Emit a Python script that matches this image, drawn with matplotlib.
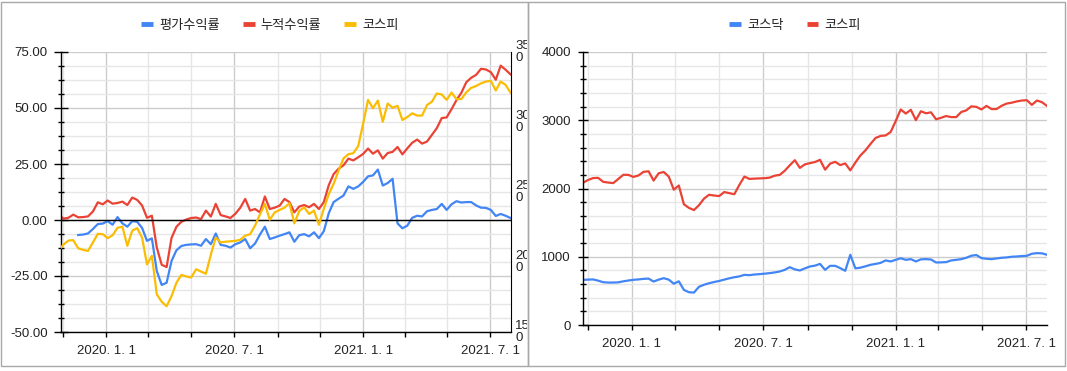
import numpy as np
import pandas as pd
import matplotlib
matplotlib.use('Agg')
import matplotlib.pyplot as plt
import matplotlib.dates as mdates
from matplotlib.lines import Line2D
from matplotlib.patches import Rectangle
from matplotlib.ticker import MultipleLocator, FixedLocator, FuncFormatter
from matplotlib.transforms import Bbox, TransformedBbox, ScaledTranslation

plt.rcParams['font.family'] = ['Liberation Sans', 'Noto Sans CJK KR']

# weekly (Friday) closes
weeks = pd.date_range('2019-10-25', '2021-07-30', freq='7D')

nan = np.nan
eval_rate = [nan, nan, nan, nan, -6.7, -6.5, -6.0, -4.0, -1.8, -1.6,
             -0.5, -2.1, 1.3, -1.5, -3.0, -0.5, -0.8, -3.5, -9.3, -8.2,
             -22.8, -29.0, -28.0, -18.3, -13.5, -11.6, -11.1, -10.9, -10.8, -11.5,
             -8.5, -10.8, -6.0, -11.1, -11.5, -12.3, -10.8, -10.0, -8.5, -12.6,
             -10.5, -6.5, -3.0, -8.5, -7.8, -7.0, -6.3, -5.5, -9.7, -6.8,
             -6.3, -7.3, -5.5, -8.1, -5.0, 3.0, 8.0, 9.5, 10.9, 15.0,
             13.9, 15.0, 17.0, 19.5, 19.9, 22.5, 15.4, 16.5, 18.4, -1.5,
             -3.7, -2.5, 1.0, 1.9, 1.6, 3.9, 4.5, 4.9, 7.2, 4.5,
             7.0, 8.4, 7.8, 8.0, 8.0, 6.5, 5.5, 5.4, 4.5, 1.8,
             2.7, 1.9, 0.9]

cum_rate = [2.4, 0.6, 1.0, 2.4, 1.2, 1.3, 1.6, 3.8, 7.9, 7.0,
            8.7, 7.3, 7.6, 8.2, 6.7, 10.0, 9.0, 6.5, 1.0, 1.9,
            -12.3, -20.0, -21.0, -8.0, -3.0, -0.8, 0.2, 0.9, 1.1, 0.4,
            4.2, 1.5, 7.2, 2.2, 1.6, 0.9, 2.8, 5.5, 9.4, 4.2,
            4.9, 3.4, 10.5, 4.9, 5.5, 6.4, 9.4, 8.0, 3.4, 6.0,
            6.7, 5.7, 7.2, 4.9, 8.0, 15.5, 20.5, 22.9, 24.4, 27.4,
            26.6, 28.0, 29.5, 31.9, 29.6, 31.1, 27.4, 29.9, 30.4, 32.6,
            29.3, 32.0, 34.5, 35.9, 34.1, 35.0, 38.0, 41.0, 45.5, 45.8,
            49.5, 53.5, 56.8, 61.5, 63.5, 64.8, 67.5, 67.2, 66.0, 62.6,
            68.9, 67.1, 65.0]

kospi = [2084, 2124, 2153, 2156, 2098, 2087, 2079, 2140, 2201, 2199,
         2170, 2191, 2244, 2252, 2116, 2223, 2242, 2175, 1983, 2044,
         1769, 1716, 1684, 1756, 1852, 1908, 1897, 1889, 1948, 1932,
         1916, 2052, 2175, 2140, 2145, 2148, 2151, 2159, 2188, 2199,
         2260, 2340, 2415, 2302, 2354, 2372, 2388, 2420, 2276, 2364,
         2391, 2343, 2367, 2266, 2380, 2484, 2559, 2652, 2740, 2770,
         2777, 2828, 2988, 3158, 3098, 3153, 3002, 3132, 3102, 3116,
         3014, 3036, 3062, 3046, 3046, 3121, 3145, 3204, 3196, 3158,
         3210, 3164, 3164, 3212, 3244, 3257, 3276, 3289, 3294, 3225,
         3289, 3265, 3210]

kosdaq = [661, 665, 668, 650, 627, 622, 622, 625, 640, 652,
          662, 668, 676, 680, 637, 665, 686, 665, 605, 640,
          515, 480, 475, 560, 590, 612, 630, 645, 665, 684,
          700, 712, 735, 730, 740, 745, 752, 760, 770, 784,
          808, 847, 815, 799, 830, 857, 870, 895, 808, 867,
          867, 833, 794, 1029, 830, 840, 860, 882, 895, 910,
          946, 931, 955, 978, 955, 965, 931, 962, 965, 960,
          916, 918, 921, 946, 955, 965, 985, 1015, 1025, 980,
          970, 965, 975, 985, 990, 1000, 1004, 1010, 1014, 1044,
          1053, 1050, 1029]

left_names = ['평가수익률', '누적수익률', '코스피']
right_names = ['코스닥', '코스피']
rate_ticks = [-50, -25, 0, 25, 50, 75]
kospi_ticks = [1500, 2000, 2500, 3000, 3500]
index_ticks = [0, 1000, 2000, 3000, 4000]

BLUE, RED, YELLOW = '#4285f4', '#ea4335', '#fbbc04'
GRID_MAJOR, GRID_MINOR = '#cccccc', '#e6e6e6'
TXT = '#222222'
FS = 9.5

W, H = 1067, 371
fig = plt.figure(figsize=(W / 100, H / 100), dpi=100)


def box(l, t, r, b):
    return [l / W, 1 - b / H, (r - l) / W, (b - t) / H]


def date_fmt(v, pos):
    d = mdates.num2date(v)
    return f'{d.year}. {d.month}. {d.day}'


def style_axes(ax, major_len, minor_len):
    ax.set_axisbelow(True)
    ax.xaxis.set_major_locator(mdates.MonthLocator(bymonth=[1, 7]))
    ax.xaxis.set_minor_locator(mdates.MonthLocator(bymonth=[3, 5, 9, 11]))
    ax.xaxis.set_major_formatter(FuncFormatter(date_fmt))
    ax.grid(which='major', color=GRID_MAJOR, lw=1)
    ax.grid(which='minor', color=GRID_MINOR, lw=1)
    ax.tick_params(axis='x', which='both', direction='out', length=3.6,
                   width=1, color='black', pad=6, labelsize=FS, labelcolor=TXT)
    ax.tick_params(axis='y', which='major', direction='inout', length=major_len,
                   width=1, color='black', pad=4.9, labelsize=FS, labelcolor=TXT)
    ax.tick_params(axis='y', which='minor', direction='inout', length=minor_len,
                   width=1, color='black')
    ax.spines['top'].set_visible(False)
    for s in ('left', 'bottom'):
        ax.spines[s].set_color('black')
        ax.spines[s].set_linewidth(1)


# ---------------- left chart ----------------
ax1 = fig.add_axes(box(61, 52, 510.5, 332))
ax2 = ax1.twinx()

ax1.plot(weeks, eval_rate, color=BLUE, lw=1.6, solid_joinstyle='round')
ax1.plot(weeks, cum_rate, color=RED, lw=1.6, solid_joinstyle='round')
ax2.plot(weeks, kospi, color=YELLOW, lw=1.6, solid_joinstyle='round')
ax1.axhline(0, color='black', lw=1)

ax1.set_xlim(pd.Timestamp('2019-10-28 12:00'), pd.Timestamp('2021-07-30'))
ax1.set_ylim(-50, 75)
ax1.yaxis.set_major_locator(FixedLocator(rate_ticks))
ax1.yaxis.set_minor_locator(MultipleLocator(6.25))
ax1.yaxis.set_major_formatter(FuncFormatter(lambda v, p: f'{v:.2f}'))
style_axes(ax1, 9.4, 5)
ax1.spines['right'].set_color('black')

ax2.set_ylim(1500, 3500)
ax2.tick_params(right=False, labelright=False)
for s in ax2.spines.values():
    s.set_visible(False)

# wrapped secondary-axis labels, clipped at the panel edge
clip = TransformedBbox(Bbox.from_extents(0, 0, 527 / W, 1), fig.transFigure)
off = ax2.get_yaxis_transform() + ScaledTranslation(4.5 / 100, 0, fig.dpi_scale_trans)
for v in kospi_ticks:
    s = str(v)
    t = ax2.text(1, v, s[:3] + '\n' + s[3:], transform=off, ha='left', va='center',
                 fontsize=FS, color=TXT, linespacing=0.95)
    t.set_clip_box(clip)
    t.set_clip_on(True)

hl = [Line2D([], [], color=c, lw=3.5, solid_capstyle='butt') for c in (BLUE, RED, YELLOW)]
fig.legend(hl, left_names, loc='center', bbox_to_anchor=(270 / W, 1 - 26 / H),
           ncol=3, frameon=False, fontsize=FS, handlelength=0.9, handletextpad=0.45,
           columnspacing=1.75, labelcolor=TXT)

# ---------------- right chart ----------------
ax3 = fig.add_axes(box(583, 52, 1047, 325))
ax3.plot(weeks, kosdaq, color=BLUE, lw=1.6, solid_joinstyle='round')
ax3.plot(weeks, kospi, color=RED, lw=1.6, solid_joinstyle='round')
ax3.set_xlim(pd.Timestamp('2019-10-25'), pd.Timestamp('2021-07-30'))
ax3.set_ylim(0, 4000)
ax3.yaxis.set_major_locator(FixedLocator(index_ticks))
ax3.yaxis.set_minor_locator(MultipleLocator(200))
ax3.yaxis.set_major_formatter(FuncFormatter(lambda v, p: f'{v:.0f}'))
style_axes(ax3, 7.6, 4.3)
ax3.spines['right'].set_visible(False)

hr = [Line2D([], [], color=c, lw=3.5, solid_capstyle='butt') for c in (BLUE, RED)]
fig.legend(hr, right_names, loc='center', bbox_to_anchor=(795 / W, 1 - 26 / H),
           ncol=2, frameon=False, fontsize=FS, handlelength=0.9, handletextpad=0.45,
           columnspacing=1.75, labelcolor=TXT)

# panel frames
for l, r in ((0.5, 527.5), (527.5, 1064.5)):
    fig.add_artist(Rectangle((l / W, 1 - 366 / H), (r - l) / W, (366 - 1.5) / H,
                             transform=fig.transFigure, fill=False,
                             ec='#a8a8a8', lw=1))

fig.savefig('out.png', dpi=100)
